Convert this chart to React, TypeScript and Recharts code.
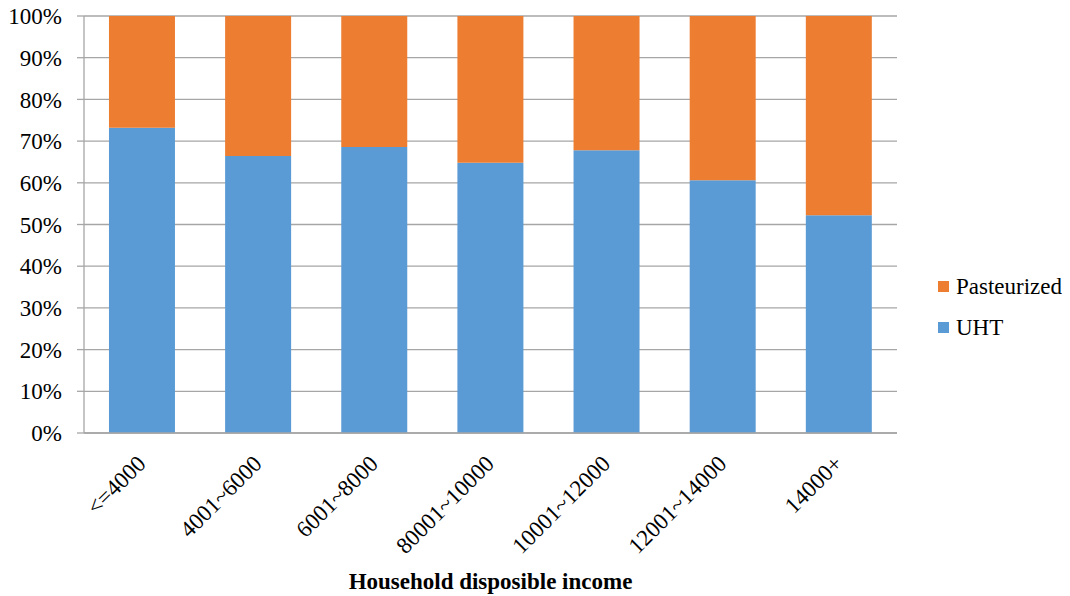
import { BarChart, Bar, XAxis, YAxis, CartesianGrid } from 'recharts';

const incomeGroups = ['<=4000', '4001~6000', '6001~8000', '80001~10000', '10001~12000', '12001~14000', '14000+'];
const uhtShare = [73.2, 66.4, 68.6, 64.8, 67.8, 60.6, 52.2];
const pasteurizedShare = [26.8, 33.6, 31.4, 35.2, 32.2, 39.4, 47.8];
const yTicks = [0, 0.1, 0.2, 0.3, 0.4, 0.5, 0.6, 0.7, 0.8, 0.9, 1];

const data = incomeGroups.map((name, i) => ({
    name,
    uht: uhtShare[i],
    pasteurized: pasteurizedShare[i],
}));

const FONT = "'Liberation Serif', serif";
const GRID = '#a6a6a6';

function AngledTick(props: any) {
    const { x, y, payload } = props;
    return (
        <text
            transform={`translate(${x + 5},${y + 24}) rotate(-45)`}
            textAnchor="end"
            fontFamily={FONT}
            fontSize={23}
            fill="#000"
        >
            {payload.value}
        </text>
    );
}

function LegendBox() {
    const items = [
        { label: 'Pasteurized', color: '#ED7D31' },
        { label: 'UHT', color: '#5B9BD5' },
    ];
    return (
        <div style={{ position: 'absolute', left: 938, top: 266, fontFamily: FONT, fontSize: 23, color: '#000' }}>
            {items.map((it) => (
                <div key={it.label} style={{ display: 'flex', alignItems: 'center', height: 41 }}>
                    <span style={{ width: 11, height: 11, background: it.color, marginRight: 7, display: 'inline-block' }} />
                    <span>{it.label}</span>
                </div>
            ))}
        </div>
    );
}

export default function App() {
    return (
        <div style={{ position: 'absolute', left: 0, top: 0, width: 1070, height: 596, background: '#fff' }}>
            <BarChart
                width={1070}
                height={596}
                data={data}
                stackOffset="expand"
                barCategoryGap="21.5%"
                margin={{ top: 16, right: 173, bottom: 13, left: 0 }}
            >
                <CartesianGrid vertical={false} stroke={GRID} strokeWidth={1.3} />
                <XAxis
                    dataKey="name"
                    tick={<AngledTick />}
                    tickLine={false}
                    axisLine={{ stroke: GRID, strokeWidth: 1.3 }}
                    height={150}
                    interval={0}
                />
                <YAxis
                    width={84}
                    domain={[0, 1]}
                    ticks={yTicks}
                    tickFormatter={(v: number) => `${Math.round(v * 100)}%`}
                    tick={{ fontFamily: FONT, fontSize: 23, fill: '#000' }}
                    tickSize={7}
                    tickMargin={15}
                    tickLine={{ stroke: GRID, strokeWidth: 1.3 }}
                    axisLine={{ stroke: GRID, strokeWidth: 1.3 }}
                />
                <Bar dataKey="uht" name="UHT" stackId="a" fill="#5B9BD5" isAnimationActive={false} />
                <Bar dataKey="pasteurized" name="Pasteurized" stackId="a" fill="#ED7D31" isAnimationActive={false} />
            </BarChart>
            <LegendBox />
            <div
                style={{
                    position: 'absolute',
                    left: 84,
                    width: 813,
                    top: 569,
                    textAlign: 'center',
                    fontFamily: FONT,
                    fontWeight: 'bold',
                    fontSize: 23,
                    color: '#000',
                }}
            >
                Household disposible income
            </div>
        </div>
    );
}
